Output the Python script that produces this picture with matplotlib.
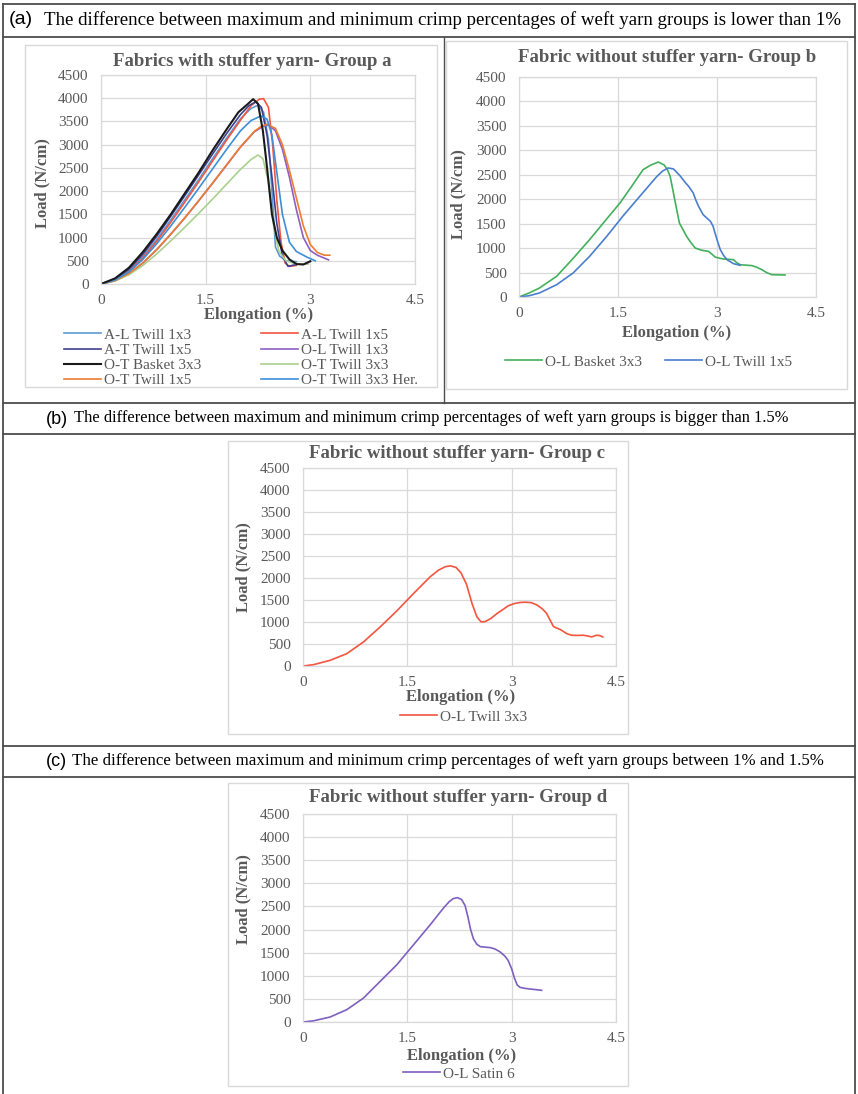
import matplotlib
matplotlib.use('Agg')
import matplotlib.pyplot as plt
from matplotlib.patches import Rectangle
from matplotlib.lines import Line2D

plt.rcParams['font.family'] = ['Liberation Serif', 'DejaVu Serif']

#%% data (elongation %, load N/cm)
# Group a - fabrics with stuffer yarn
al_twill13_x = [0, 0.2, 0.4, 0.6, 0.8, 1.0, 1.2, 1.4, 1.6, 1.8, 2.0, 2.15, 2.25, 2.33, 2.4, 2.45, 2.5, 2.56, 2.65, 2.8]
al_twill13_y = [0, 95, 290, 590, 960, 1380, 1810, 2250, 2700, 3140, 3560, 3780, 3850, 3700, 3100, 2000, 800, 600, 500, 480]

al_twill15_x = [0, 0.2, 0.4, 0.6, 0.8, 1.0, 1.2, 1.4, 1.6, 1.8, 2.0, 2.15, 2.27, 2.33, 2.4, 2.46, 2.52, 2.58, 2.64, 2.7, 2.8]
al_twill15_y = [0, 90, 270, 560, 920, 1330, 1760, 2200, 2650, 3100, 3530, 3840, 3980, 3990, 3800, 3000, 1800, 900, 450, 380, 400]

at_twill15_x = [0, 0.2, 0.4, 0.6, 0.8, 1.0, 1.2, 1.4, 1.6, 1.8, 2.0, 2.12, 2.22, 2.3, 2.38, 2.45, 2.52, 2.6, 2.68, 2.8]
at_twill15_y = [0, 105, 320, 640, 1030, 1460, 1900, 2350, 2800, 3240, 3650, 3840, 3925, 3800, 3200, 2300, 1300, 600, 380, 420]

ol_twill13_x = [0, 0.2, 0.4, 0.6, 0.8, 1.0, 1.2, 1.4, 1.6, 1.8, 2.0, 2.2, 2.33, 2.4, 2.5, 2.6, 2.7, 2.8, 2.9, 3.0, 3.1, 3.26]
ol_twill13_y = [0, 70, 220, 450, 740, 1070, 1420, 1790, 2170, 2560, 2950, 3280, 3400, 3420, 3300, 2900, 2300, 1600, 1000, 720, 620, 520]

ot_basket33_x = [0, 0.2, 0.4, 0.6, 0.8, 1.0, 1.2, 1.4, 1.6, 1.8, 1.97, 2.1, 2.18, 2.25, 2.32, 2.38, 2.45, 2.52, 2.6, 2.7, 2.8, 2.9, 3.0]
ot_basket33_y = [0, 120, 350, 690, 1080, 1500, 1950, 2400, 2880, 3330, 3700, 3870, 3980, 3880, 3300, 2500, 1500, 1000, 720, 530, 430, 420, 490]

ot_twill33_x = [0, 0.2, 0.4, 0.6, 0.8, 1.0, 1.2, 1.4, 1.6, 1.8, 2.0, 2.15, 2.25, 2.32, 2.4, 2.47, 2.55, 2.65, 2.8, 2.97]
ot_twill33_y = [0, 65, 200, 400, 650, 930, 1220, 1520, 1830, 2150, 2470, 2680, 2777, 2700, 2200, 1300, 700, 500, 430, 430]

ot_twill15_x = [0, 0.2, 0.4, 0.6, 0.8, 1.0, 1.2, 1.4, 1.6, 1.8, 2.0, 2.2, 2.3, 2.38, 2.5, 2.6, 2.7, 2.8, 2.9, 3.0, 3.1, 3.2, 3.28]
ot_twill15_y = [0, 72, 225, 455, 745, 1075, 1425, 1795, 2175, 2565, 2955, 3290, 3400, 3440, 3350, 3000, 2450, 1850, 1250, 850, 680, 620, 620]

ot_twill33her_x = [0, 0.2, 0.4, 0.6, 0.8, 1.0, 1.2, 1.4, 1.6, 1.8, 2.0, 2.15, 2.29, 2.38, 2.45, 2.52, 2.6, 2.7, 2.8, 2.95, 3.07]
ot_twill33her_y = [0, 85, 260, 530, 870, 1250, 1650, 2060, 2480, 2900, 3300, 3520, 3617, 3550, 3200, 2400, 1500, 900, 700, 580, 500]

# Group b
ol_basket33_x = [0, 0.15, 0.31, 0.57, 0.8, 1.07, 1.3, 1.53, 1.7, 1.88, 2.0, 2.11, 2.2, 2.25, 2.29, 2.33, 2.36, 2.43, 2.54,
                 2.6, 2.67, 2.77, 2.87, 2.92, 2.97, 3.05, 3.1, 3.25, 3.3, 3.35, 3.53, 3.6, 3.68, 3.75, 3.83, 4.03]
ol_basket33_y = [0, 80, 184, 423, 760, 1173, 1550, 1923, 2250, 2605, 2700, 2761, 2700, 2600, 2468, 2200, 1990, 1514, 1240,
                 1120, 1002, 955, 934, 880, 818, 790, 777, 764, 700, 661, 641, 610, 559, 500, 457, 450]

ol_twill15_x = [0, 0.15, 0.31, 0.57, 0.82, 1.07, 1.33, 1.58, 1.83, 2.09, 2.18, 2.26, 2.34, 2.44, 2.52, 2.57, 2.64, 2.68,
                2.72, 2.79, 2.85, 2.9, 2.94, 2.97, 3.01, 3.05, 3.1, 3.15, 3.25, 3.35]
ol_twill15_y = [0, 25, 82, 252, 491, 832, 1241, 1664, 2059, 2468, 2580, 2639, 2620, 2480, 2340, 2264, 2127, 1980,
                1855, 1684, 1610, 1548, 1450, 1309, 1130, 968, 850, 764, 682, 648]

# Group c
ol_twill33_x = [0, 0.15, 0.39, 0.63, 0.87, 1.11, 1.35, 1.59, 1.83, 1.95, 2.05, 2.12, 2.2, 2.27, 2.35, 2.43, 2.5, 2.56,
                2.62, 2.7, 2.79, 2.88, 2.95, 3.04, 3.12, 3.2, 3.28, 3.36, 3.44, 3.5, 3.56, 3.6, 3.65, 3.7, 3.79, 3.86,
                3.95, 4.03, 4.1, 4.15, 4.22, 4.27, 4.31]
ol_twill33_y = [0, 30, 129, 281, 547, 889, 1254, 1649, 2030, 2180, 2260, 2275, 2240, 2120, 1860, 1421, 1117, 1003,
                1010, 1080, 1193, 1290, 1368, 1420, 1444, 1450, 1440, 1390, 1300, 1200, 1020, 900, 860, 828, 737, 699,
                695, 699, 680, 661, 699, 690, 661]

# Group d
ol_satin6_x = [0, 0.15, 0.39, 0.63, 0.87, 1.11, 1.35, 1.59, 1.83, 2.02, 2.1, 2.16, 2.22, 2.28, 2.33, 2.37, 2.41, 2.45,
               2.5, 2.55, 2.62, 2.69, 2.76, 2.83, 2.9, 2.95, 3.0, 3.04, 3.08, 3.12, 3.18, 3.26, 3.35, 3.43]
ol_satin6_y = [0, 25, 108, 267, 519, 880, 1240, 1673, 2106, 2466, 2600, 2670, 2690, 2650, 2520, 2280, 2000, 1800,
               1680, 1630, 1620, 1610, 1580, 1520, 1430, 1330, 1150, 950, 800, 750, 730, 714, 700, 685]

x_ticks = [0, 1.5, 3, 4.5]
x_ticklabels = ['0', '1.5', '3', '4.5']
y_ticks = list(range(0, 5000, 500))

#%% layout helpers (pixel coordinates of the 858x1094 picture)
W, H = 858, 1094
GRAY = '#595959'
GRID = '#d9d9d9'
TABLE = '#4d4d4d'

fig = plt.figure(figsize=(W / 100, H / 100), dpi=100)
bg = fig.add_axes([0, 0, 1, 1], zorder=0)
bg.set_xlim(0, W)
bg.set_ylim(H, 0)
bg.axis('off')


def px_axes(l, t, r, b):
    ax = fig.add_axes([l / W, 1 - b / H, (r - l) / W, (b - t) / H], zorder=2)
    ax.set_xlim(0, 4.5)
    ax.set_ylim(0, 4500)
    ax.set_xticks(x_ticks)
    ax.set_xticklabels(x_ticklabels)
    ax.set_yticks(y_ticks)
    ax.grid(True, color=GRID, lw=0.9)
    ax.set_axisbelow(True)
    for s in ax.spines.values():
        s.set_color(GRID)
        s.set_linewidth(0.9)
    ax.tick_params(length=0, labelsize=11, labelcolor=GRAY)
    ax.tick_params(axis='x', pad=7)
    ax.tick_params(axis='y', pad=9)
    ax.patch.set_alpha(0)
    return ax


def labels(title, tx, ty, xlx, xly, ylx, yly):
    bg.text(tx, ty, title, ha='center', va='center', fontsize=13.5, fontweight='bold', color=GRAY)
    bg.text(xlx, xly, 'Elongation (%)', ha='center', va='center', fontsize=12, fontweight='bold', color=GRAY)
    bg.text(ylx, yly, 'Load (N/cm)', ha='center', va='center', rotation=90, fontsize=12,
            fontweight='bold', color=GRAY)


def legend(ax, handles, x, y):
    leg = ax.legend(handles=handles, loc='upper left', bbox_to_anchor=(x, y), bbox_transform=bg.transData,
                    frameon=False, fontsize=11, handlelength=2.4, handletextpad=0.2, borderpad=0,
                    borderaxespad=0, labelspacing=0.1, labelcolor=GRAY)
    return leg


#%% table lines and chart frames
for y in [4, 37, 403, 434, 746, 777]:
    bg.add_line(Line2D([3, 855], [y, y], color=TABLE, lw=1.3))
bg.add_line(Line2D([3, 3], [4, H], color=TABLE, lw=1.3))
bg.add_line(Line2D([855, 855], [4, H], color=TABLE, lw=1.3))
bg.add_line(Line2D([444, 444], [37, 403], color=TABLE, lw=1.0))

for (l, t, r, b) in [(25, 45, 437, 387), (446, 41, 847, 389), (228, 441, 628, 734), (228, 783, 628, 1086)]:
    bg.add_patch(Rectangle((l, t), r - l, b - t, fill=False, edgecolor=GRID, lw=1.0))

bg.text(9, 20, '(a)', ha='left', va='center', fontsize=14, family='Liberation Sans')
bg.text(44, 20, 'The difference between maximum and minimum crimp percentages of weft yarn groups is lower than 1%',
        ha='left', va='center', fontsize=13.6)
bg.text(46, 419, '(b)', ha='left', va='center', fontsize=13, family='Liberation Sans')
bg.text(74, 418, 'The difference between maximum and minimum crimp percentages of weft yarn groups is bigger than 1.5%',
        ha='left', va='center', fontsize=11.9)
bg.text(46, 762, '(c)', ha='left', va='center', fontsize=13, family='Liberation Sans')
bg.text(72, 761, 'The difference between maximum and minimum crimp percentages of weft yarn groups between 1% and 1.5%',
        ha='left', va='center', fontsize=12.2)

#%% Group a
ax_a = px_axes(101, 75, 415, 284)
lw = 1.2
h1, = ax_a.plot(al_twill13_x, al_twill13_y, color='#5b9bd5', lw=lw, label='A-L Twill 1x3')
h2, = ax_a.plot(al_twill15_x, al_twill15_y, color='#f4553f', lw=lw, label='A-L Twill 1x5')
h3, = ax_a.plot(at_twill15_x, at_twill15_y, color='#3f3f8f', lw=lw, label='A-T Twill 1x5')
h4, = ax_a.plot(ol_twill13_x, ol_twill13_y, color='#8e5fc4', lw=lw, label='O-L Twill 1x3')
h5, = ax_a.plot(ot_twill33_x, ot_twill33_y, color='#a9d18e', lw=lw, label='O-T Twill 3x3')
h6, = ax_a.plot(ot_twill15_x, ot_twill15_y, color='#ed7d31', lw=lw, label='O-T Twill 1x5')
h7, = ax_a.plot(ot_twill33her_x, ot_twill33her_y, color='#3d8fd8', lw=lw, label='O-T Twill 3x3 Her.')
h8, = ax_a.plot(ot_basket33_x, ot_basket33_y, color='#1a1a1a', lw=1.5, label='O-T Basket 3x3')
labels('Fabrics with stuffer yarn- Group a', 252, 61, 259, 315, 42, 183)
leg1 = legend(ax_a, [h1, h3, h8, h6], 64, 328)
ax_a.add_artist(leg1)
legend(ax_a, [h2, h4, h5, h7], 261, 328)

#%% Group b
ax_b = px_axes(519, 77, 816, 297)
g1, = ax_b.plot(ol_basket33_x, ol_basket33_y, color='#43b05c', lw=lw, label='O-L Basket 3x3')
g2, = ax_b.plot(ol_twill15_x, ol_twill15_y, color='#4a7fcf', lw=lw, label='O-L Twill 1x5')
labels('Fabric without stuffer yarn- Group b', 667, 58, 677, 333, 458, 194)
leg_b1 = legend(ax_b, [g1], 505, 355)
ax_b.add_artist(leg_b1)
legend(ax_b, [g2], 665, 355)

#%% Group c
ax_c = px_axes(303, 468, 616, 666)
c1, = ax_c.plot(ol_twill33_x, ol_twill33_y, color='#f4553f', lw=lw, label='O-L Twill 3x3')
labels('Fabric without stuffer yarn- Group c', 457, 453, 461, 697, 243, 567)
legend(ax_c, [c1], 400, 710)

#%% Group d
ax_d = px_axes(303, 814, 616, 1022)
d1, = ax_d.plot(ol_satin6_x, ol_satin6_y, color='#7f5fc0', lw=lw, label='O-L Satin 6')
labels('Fabric without stuffer yarn- Group d', 458, 798, 462, 1056, 243, 899)
legend(ax_d, [d1], 403, 1067)

fig.savefig('out.png', dpi=100)
